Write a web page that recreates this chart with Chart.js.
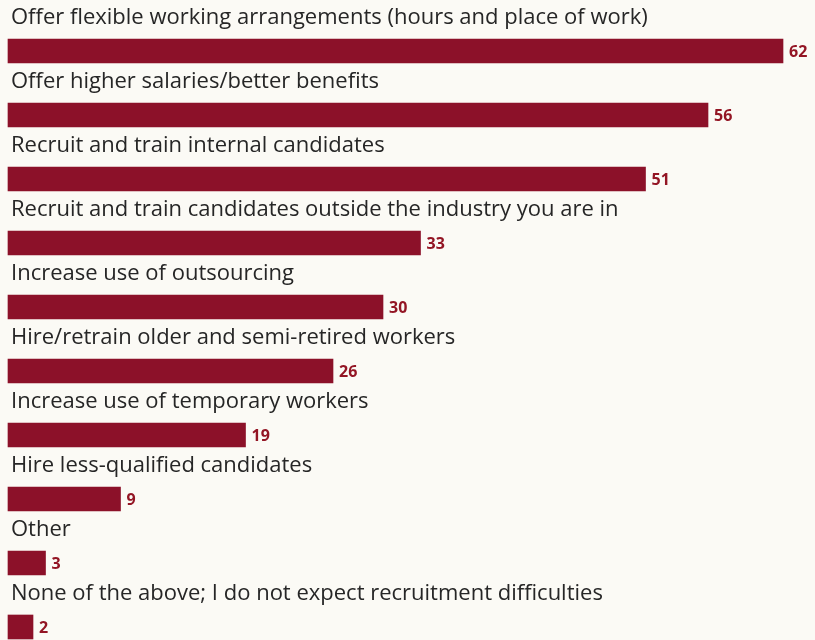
<!DOCTYPE html>
<html>
<head>
<meta charset="utf-8">
<script src="https://cdn.jsdelivr.net/npm/chart.js@4"></script>
<style>
  html, body { margin: 0; padding: 0; background: #fbfaf5; }
  #wrap { width: 815px; height: 640px; position: relative; }
</style>
</head>
<body>
<div id="wrap"><canvas id="myChart"></canvas></div>
<script>
// survey answers, percent of respondents
const categories = [
    "Offer flexible working arrangements (hours and place of work)",
    "Offer higher salaries/better benefits",
    "Recruit and train internal candidates",
    "Recruit and train candidates outside the industry you are in",
    "Increase use of outsourcing",
    "Hire/retrain older and semi-retired workers",
    "Increase use of temporary workers",
    "Hire less-qualified candidates",
    "Other",
    "None of the above; I do not expect recruitment difficulties"
];
const values = [62, 56, 51, 33, 30, 26, 19, 9, 3, 2];

const barColor = '#8c1129';

// draws the category text above each bar and the number after it
const barLabels = {
    id: 'barLabels',
    afterDatasetsDraw(chart) {
        const ctx = chart.ctx;
        const meta = chart.getDatasetMeta(0);
        ctx.save();
        ctx.textBaseline = 'middle';
        meta.data.forEach(function(bar, i) {
            ctx.fillStyle = '#262626';
            ctx.font = '22px "Open Sans"';
            ctx.textAlign = 'left';
            ctx.fillText(categories[i], 11, bar.y - 33);
            ctx.fillStyle = '#931524';
            ctx.font = 'bold 16px "Open Sans"';
            ctx.fillText(values[i], bar.x + 6, bar.y + 1);
        });
        ctx.restore();
    }
};

document.addEventListener('DOMContentLoaded', function() {
    const ctx = document.getElementById('myChart');
    new Chart(ctx, {
        type: 'bar',
        data: {
            labels: categories,
            datasets: [{
                data: values,
                backgroundColor: barColor,
                borderWidth: 0,
                barThickness: 24,
                clip: false
            }]
        },
        options: {
            indexAxis: 'y',
            responsive: true,
            maintainAspectRatio: false,
            animation: false,
            layout: { padding: { left: 8, right: 7, top: 51, bottom: 13 } },
            plugins: { legend: { display: false }, tooltip: { enabled: false } },
            scales: {
                x: { min: 0, max: 64, display: false },
                y: { display: false, offset: false }
            }
        },
        plugins: [barLabels]
    });
});
</script>
</body>
</html>
